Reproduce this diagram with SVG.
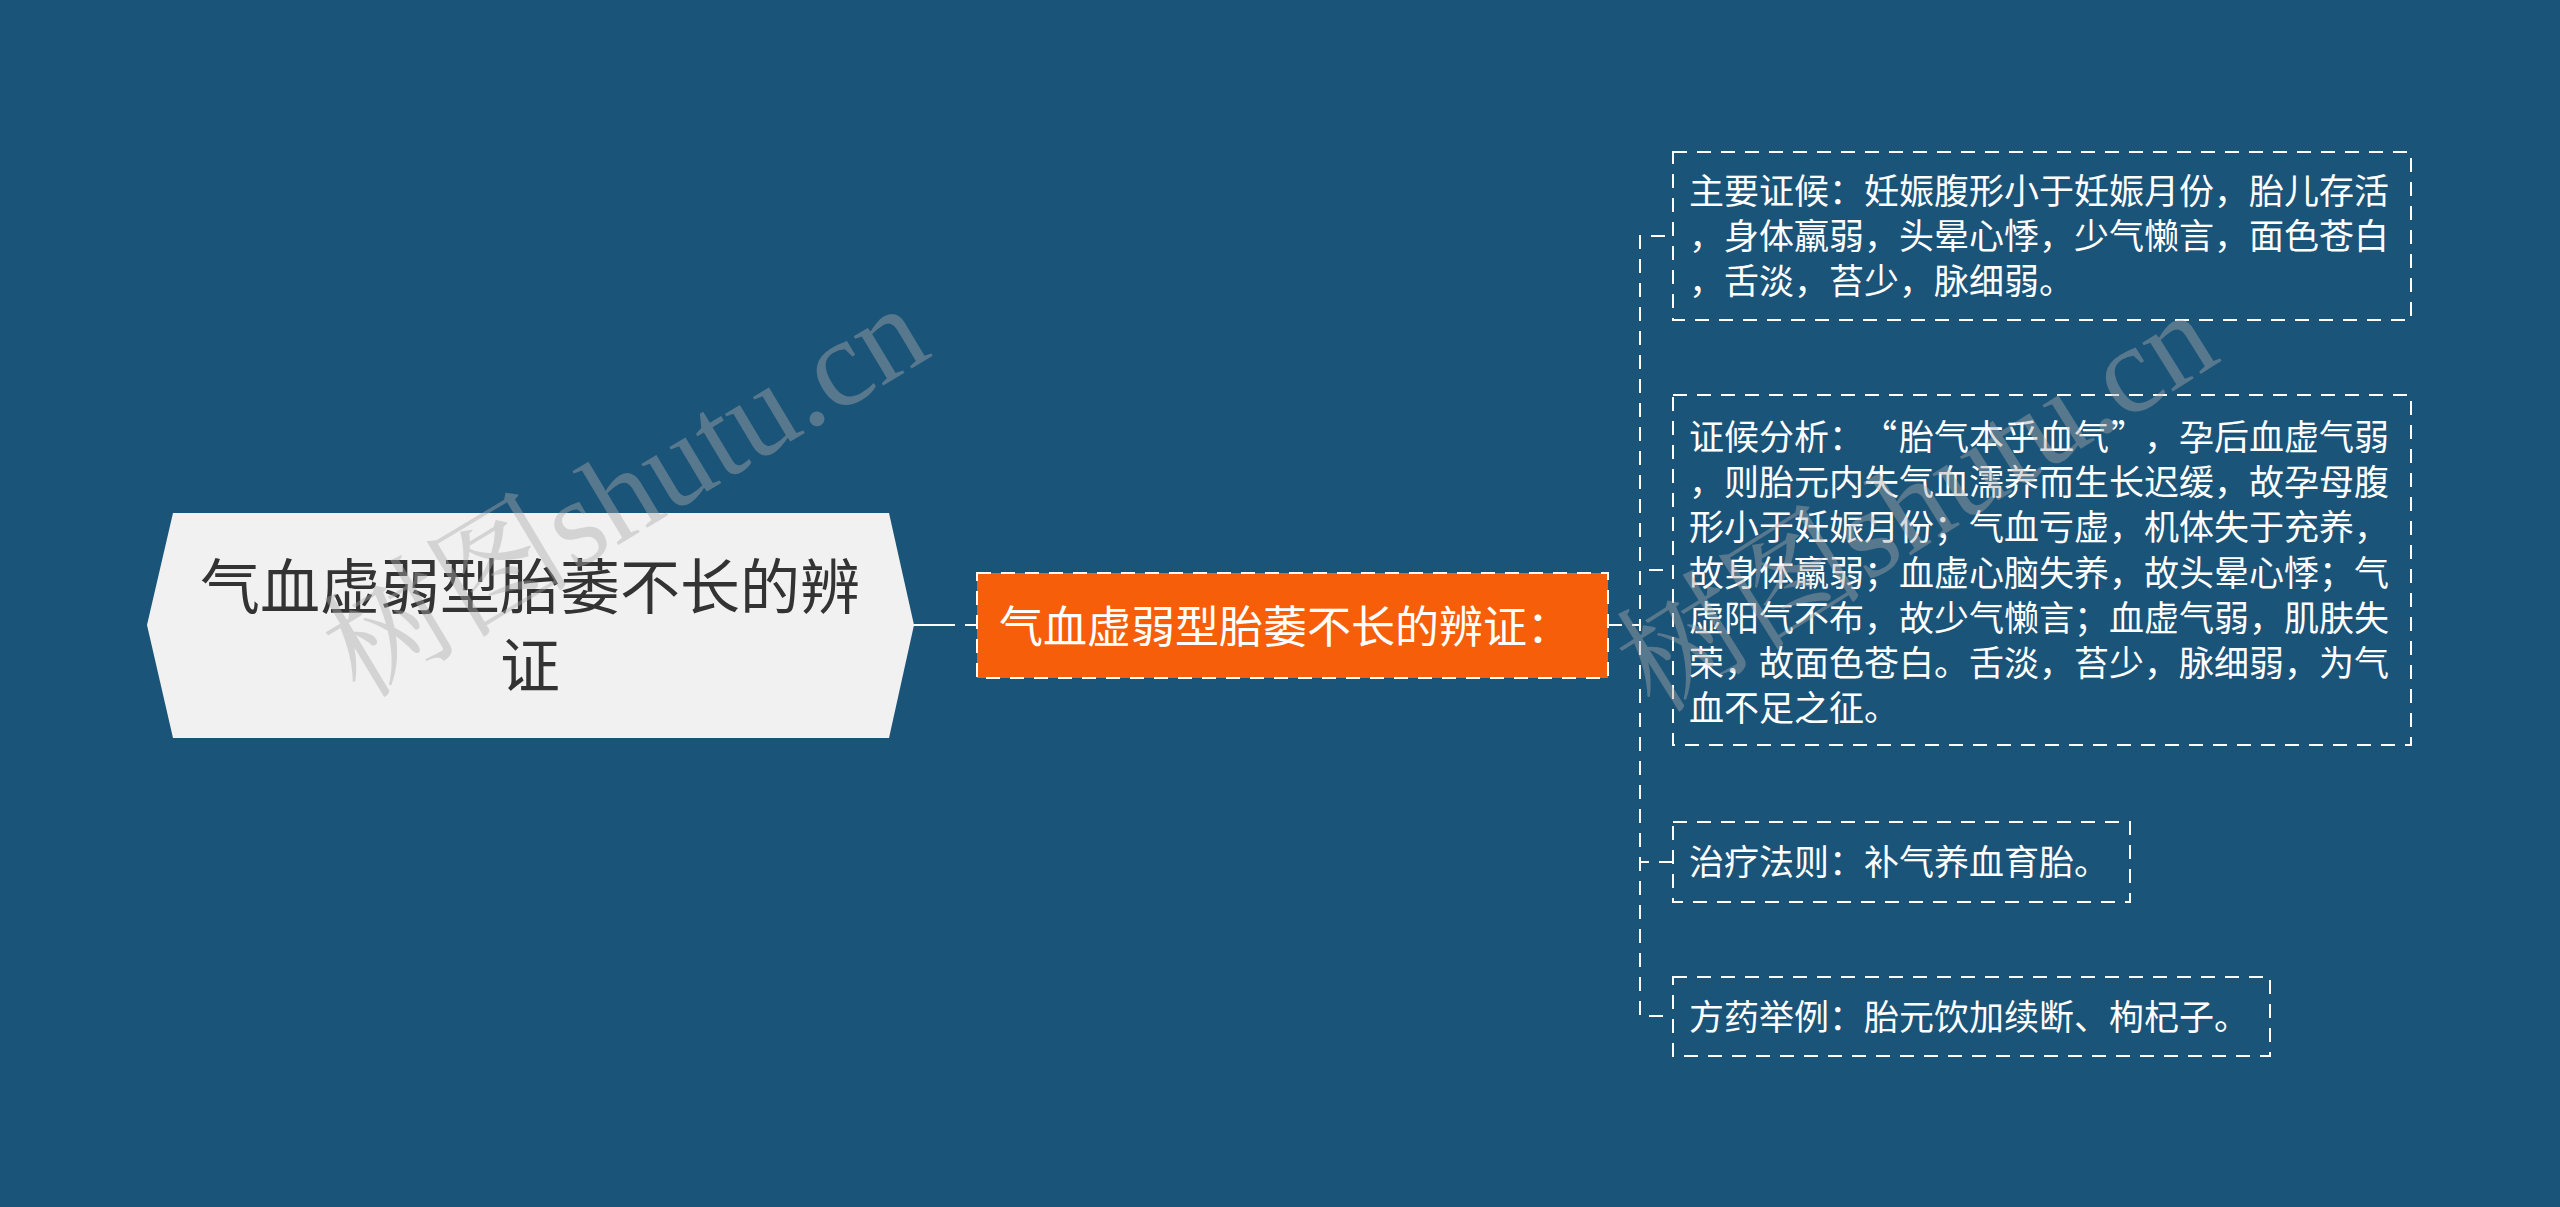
<svg xmlns="http://www.w3.org/2000/svg" width="2560" height="1207" viewBox="0 0 2560 1207">
<style>
.cjk{font-family:"Noto Sans CJK SC","Noto Sans",sans-serif}
.box{fill:none;stroke:#ffffff;stroke-width:2;stroke-dasharray:14 10}
.conn{fill:none;stroke:#ffffff;stroke-width:2;stroke-dasharray:14 10}
.wt{fill:#ffffff;font-size:35px}
.wm{font-family:"Liberation Serif","DejaVu Serif",serif;font-size:125px;fill:#aaaaaa;opacity:0.42}
</style>
<rect x="0" y="0" width="2560" height="1207" fill="#1b5479"/>
<g id="connectors">
<path d="M913,625 H977" fill="none" stroke="#ffffff" stroke-width="2" stroke-dasharray="42 10 12 10"/>
<path class="conn" d="M1608,625 H1640 V236 H1672"/>
<path class="conn" d="M1608,625 H1640 V570 H1672"/>
<path class="conn" d="M1608,625 H1640 V862 H1672"/>
<path class="conn" d="M1608,625 H1640 V1016 H1672"/>
</g>
<g id="root">
<polygon points="173,513 889,513 914,625 889,738 173,738 147,625" fill="#f1f1f1"/>
<text class="cjk" x="530" y="609" font-size="60" fill="#333333" text-anchor="middle">气血虚弱型胎萎不长的辨</text>
<text class="cjk" x="530" y="688" font-size="60" fill="#333333" text-anchor="middle">证</text>
</g>
<g id="branch">
<rect x="977" y="573" width="631" height="105" fill="#f65e09" stroke="#ffffff" stroke-width="2" stroke-dasharray="14 10"/>
<text class="cjk" x="999" y="643" font-size="44" fill="#ffffff">气血虚弱型胎萎不长的辨证：</text>
</g>
<g id="node1">
<rect class="box" x="1673" y="152" width="738" height="168"/>
<text class="cjk wt" x="1689" y="204">主要证候：妊娠腹形小于妊娠月份，胎儿存活</text>
<text class="cjk wt" x="1689" y="249">，身体羸弱，头晕心悸，少气懒言，面色苍白</text>
<text class="cjk wt" x="1689" y="294">，舌淡，苔少，脉细弱。</text>
</g>
<g id="node2">
<rect class="box" x="1673" y="395" width="738" height="350"/>
<text class="cjk wt" y="450"><tspan x="1689">证候分析：</tspan><tspan x="1897" text-anchor="end">“</tspan><tspan x="1899">胎气本乎血气</tspan><tspan x="2111">”</tspan><tspan x="2144">，孕后血虚气弱</tspan></text>
<text class="cjk wt" x="1689" y="495">，则胎元内失气血濡养而生长迟缓，故孕母腹</text>
<text class="cjk wt" x="1689" y="540">形小于妊娠月份；气血亏虚，机体失于充养，</text>
<text class="cjk wt" x="1689" y="586">故身体羸弱；血虚心脑失养，故头晕心悸；气</text>
<text class="cjk wt" x="1689" y="631">虚阳气不布，故少气懒言；血虚气弱，肌肤失</text>
<text class="cjk wt" x="1689" y="676">荣，故面色苍白。舌淡，苔少，脉细弱，为气</text>
<text class="cjk wt" x="1689" y="721">血不足之征。</text>
</g>
<g id="node3">
<rect class="box" x="1673" y="822" width="457" height="80"/>
<text class="cjk wt" x="1689" y="875">治疗法则：补气养血育胎。</text>
</g>
<g id="node4">
<rect class="box" x="1673" y="977" width="597" height="79"/>
<text class="cjk wt" x="1689" y="1030">方药举例：胎元饮加续断、枸杞子。</text>
</g>
<g id="watermark">
<text class="wm" transform="translate(360,700) rotate(-31)"><tspan font-family="Noto Serif CJK SC,Noto Sans CJK SC,serif">树图</tspan>shutu.cn</text>
<text class="wm" transform="translate(1655,715) rotate(-32)"><tspan font-family="Noto Serif CJK SC,Noto Sans CJK SC,serif">树图</tspan>shutu.cn</text>
</g>
</svg>
